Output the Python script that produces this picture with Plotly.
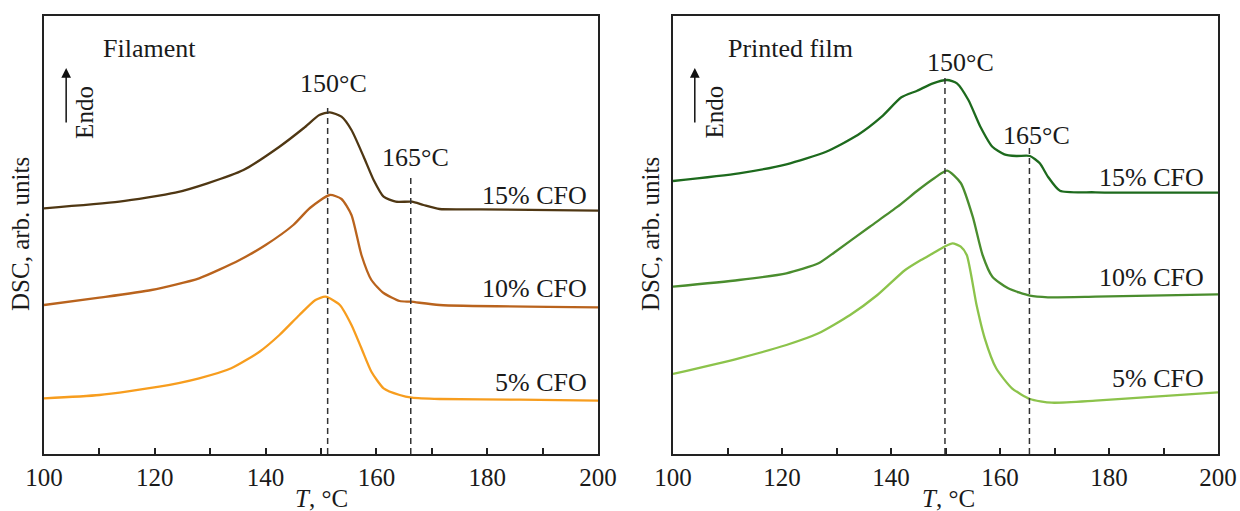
import plotly.graph_objects as go

# ---------- data (temperature in °C, DSC signal in arbitrary units) ----------
fil15_T = [100, 113.6, 123.7, 129.5, 136, 142.5, 146.9, 149.7, 151.6, 153.7, 155.5, 157.7, 159.5, 161.3, 163.5, 166.4, 168.5, 171.4, 178.7, 200]
fil15_y = [245.7, 252.3, 261.3, 270.7, 284, 307.3, 326, 339, 341.7, 337.3, 324, 297.3, 274, 257.3, 252.3, 252.3, 249, 245, 244.7, 243.3]

fil10_T = [100, 110, 119.4, 128, 135.3, 140, 145, 148, 151.6, 153.7, 155.5, 157.3, 159.1, 161.3, 164.2, 166.2, 171.4, 200]
fil10_y = [149, 156.3, 164, 175.7, 194, 209, 229, 246, 259, 255, 239, 199, 174, 161, 153, 152.3, 149, 146.7]

fil5_T = [100, 110, 120.8, 128, 133.8, 138.9, 142.5, 146.1, 149, 150.8, 153.4, 155.5, 157.3, 159.1, 161.3, 164.2, 166.4, 171.4, 185.9, 200]
fil5_y = [55.7, 59, 67.3, 75.7, 85.7, 102.3, 119, 139, 154, 157.3, 149, 129, 105.7, 82.3, 65.7, 59, 56.3, 55, 54.3, 53.3]

film15_T = [100, 112.1, 120.8, 128.1, 133.9, 138.3, 141.9, 144.8, 147.7, 150.3, 152.1, 154.2, 156.4, 158.6, 160.8, 163, 165.5, 167.3, 168.8, 171, 177.5, 200]
film15_y = [273, 280.7, 289.7, 302.3, 319, 337.3, 356.7, 363.3, 370.7, 374, 370.7, 354, 327.3, 307.3, 299.7, 298, 298, 290.7, 277.3, 263.3, 261.7, 261.3]

film10_T = [100, 112.1, 120.8, 126.7, 129.6, 136.1, 141.2, 145, 148, 150.3, 152.8, 155, 156.8, 158.6, 161.5, 165.5, 168.8, 177.5, 200]
film10_y = [167.3, 174, 180.7, 190.7, 201.5, 227.3, 247.3, 264, 276, 283.3, 271, 237.3, 199, 177.3, 165.7, 158.3, 156.7, 157.3, 159.7]

film5_T = [100, 112.1, 120.8, 126.7, 132.5, 137.5, 142.6, 145.5, 147.7, 149.8, 151.3, 152.8, 153.9, 155.7, 157.2, 159.3, 162.2, 165.5, 169.5, 177.5, 188.4, 200]
film5_y = [80, 95.7, 109, 120.7, 139, 159, 184, 194, 200.7, 207.3, 210.7, 207.3, 199, 149, 115.7, 85.7, 65.7, 55, 51.3, 53.3, 57.3, 61.7]

series_labels = ["15% CFO", "10% CFO", "5% CFO"]
panel_titles = ["Filament", "Printed film"]
peak_labels = ["150°C", "165°C"]
x_ticks = [100, 120, 140, 160, 180, 200]

FONT = "Liberation Serif, Times New Roman, serif"
TXT = "#1a1a1a"

fig = go.Figure()

def add_line(T, y, color, xa, ya):
    fig.add_trace(go.Scatter(x=T, y=y, mode="lines", xaxis=xa, yaxis=ya,
                             line=dict(color=color, width=2.3, shape="spline", smoothing=0.6),
                             showlegend=False, hoverinfo="skip"))

add_line(fil15_T, fil15_y, "#4f3713", "x", "y")
add_line(fil10_T, fil10_y, "#b9631d", "x", "y")
add_line(fil5_T, fil5_y, "#f79d1e", "x", "y")
add_line(film15_T, film15_y, "#1d6a1d", "x2", "y2")
add_line(film10_T, film10_y, "#4a8d2e", "x2", "y2")
add_line(film5_T, film5_y, "#8cc34b", "x2", "y2")

W = 1240.0
PLOT_BOTTOM = 454
PLOT_H = 438.0

axis_common = dict(range=[100, 200], showline=True, linewidth=2, linecolor="#222", mirror=True,
                   ticks="inside", ticklen=6, tickwidth=1.5, tickcolor="#222",
                   tickvals=x_ticks, showgrid=False, zeroline=False, automargin=False,
                   tickfont=dict(family=FONT, size=25, color=TXT),
                   minor=dict(ticks="inside", ticklen=6, tickwidth=1.5, tickcolor="#222", dtick=10, showgrid=False))
yaxis_common = dict(range=[0, 438], showline=True, linewidth=2, linecolor="#222", mirror=True,
                    showticklabels=False, ticks="", showgrid=False, zeroline=False, automargin=False)

fig.update_layout(
    width=1240, height=511, autosize=False,
    margin=dict(l=0, r=0, t=16, b=511 - PLOT_BOTTOM, pad=0, autoexpand=False),
    paper_bgcolor="white", plot_bgcolor="white",
    xaxis=dict(domain=[44 / W, 598 / W], anchor="y", **axis_common),
    yaxis=dict(domain=[0, 1], anchor="x", **yaxis_common),
    xaxis2=dict(domain=[673 / W, 1218 / W], anchor="y2", **axis_common),
    yaxis2=dict(domain=[0, 1], anchor="x2", **yaxis_common),
    font=dict(family=FONT, color=TXT),
    showlegend=False,
)

shapes = []
# dashed reference lines
for xa, ya, xv, top in [("x", "y", 151.2, 350), ("x", "y", 166.2, 279),
                         ("x2", "y2", 149.9, 379), ("x2", "y2", 165.4, 307)]:
    shapes.append(dict(type="line", xref=xa, yref=ya, x0=xv, x1=xv, y0=0, y1=top,
                       line=dict(color="#333", width=1.5, dash="6px,4px")))
fig.update_layout(shapes=shapes)

ann = []
def txt(xa, ya, x, y, s, xanchor="center", size=26, angle=0):
    ann.append(dict(xref=xa, yref=ya, x=x, y=y, text=s, showarrow=False, xanchor=xanchor,
                    yanchor="middle", textangle=angle, font=dict(family=FONT, size=size, color=TXT)))

# Left panel
txt("x", "y", 110.2, 406, panel_titles[0], xanchor="left", size=26)
txt("x", "y", 152.3, 371, peak_labels[0])
txt("x", "y", 167.0, 297, peak_labels[1])
txt("x", "y", 198.4, 259, series_labels[0], xanchor="right")
txt("x", "y", 198.4, 166, series_labels[1], xanchor="right")
txt("x", "y", 198.4, 72, series_labels[2], xanchor="right")
txt("x", "y", 107.2, 342, "Endo", size=25, angle=-90)
# Right panel
txt("x2", "y2", 109.8, 406, panel_titles[1], xanchor="left", size=26)
txt("x2", "y2", 152.7, 392, peak_labels[0])
txt("x2", "y2", 166.7, 319, peak_labels[1])
txt("x2", "y2", 197.8, 277, series_labels[0], xanchor="right")
txt("x2", "y2", 197.8, 177, series_labels[1], xanchor="right")
txt("x2", "y2", 197.8, 76, series_labels[2], xanchor="right")
txt("x2", "y2", 107.6, 342, "Endo", size=25, angle=-90)

# arrows
for xa, ya in [("x", "y"), ("x2", "y2")]:
    ann.append(dict(xref=xa, yref=ya, axref=xa, ayref=ya, x=104, y=386, ax=104, ay=330,
                    showarrow=True, arrowhead=2, arrowsize=1.3, arrowwidth=1.5, arrowcolor="#111", text=""))

# axis titles
for xc in [20, 650]:
    ann.append(dict(xref="paper", yref="paper", x=xc / W, y=(PLOT_BOTTOM - 234) / PLOT_H, text="DSC, arb. units",
                    showarrow=False, textangle=-90, xanchor="center", yanchor="middle",
                    font=dict(family=FONT, size=25, color=TXT)))
for xc in [321, 948]:
    ann.append(dict(xref="paper", yref="paper", x=xc / W, y=(PLOT_BOTTOM - 498) / PLOT_H, text="<i>T</i>, °C",
                    showarrow=False, xanchor="center", yanchor="middle",
                    font=dict(family=FONT, size=25, color=TXT)))

fig.update_layout(annotations=ann)
fig.write_html("out.html", config={"displayModeBar": False},
               post_script="document.body.style.margin='0';document.body.style.overflow='hidden';")
